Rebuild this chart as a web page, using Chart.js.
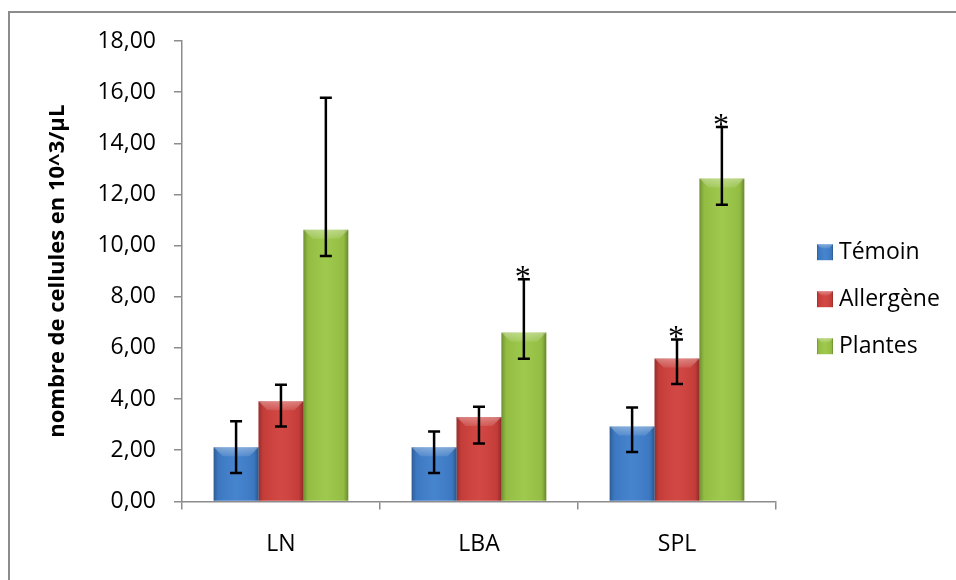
<!DOCTYPE html>
<html>
<head>
<meta charset="utf-8">
<script src="https://cdn.jsdelivr.net/npm/chart.js@4"></script>
<style>
    html, body { margin: 0; padding: 0; background: #fff; }
</style>
</head>
<body>
<canvas id="myChart" width="956" height="580"></canvas>
<script>
// Données
const categories = ['LN', 'LBA', 'SPL'];
const temoin = [2.12, 2.12, 2.93];
const allergene = [3.92, 3.30, 5.59];
const plantes = [10.62, 6.60, 12.62];

// bornes des barres d'erreur
const temoinHaut = [3.13, 2.73, 3.67];
const temoinBas = [1.11, 1.11, 1.93];
const allergeneHaut = [4.56, 3.70, 6.33];
const allergeneBas = [2.93, 2.26, 4.59];
const plantesHaut = [15.78, 8.69, 14.64];
const plantesBas = [9.59, 5.58, 11.60];

// étoiles (différence significative)
const temoinEtoile = [false, false, false];
const allergeneEtoile = [false, false, true];
const plantesEtoile = [false, true, true];

// graduations de l'axe Y
const yTicks = [0, 2, 4, 6, 8, 10, 12, 14, 16, 18];

const police = '"Open Sans", "Liberation Sans", sans-serif';

// Relief façon Excel sur un rectangle
function dessinerRelief(ctx, l, t, r, b, bev) {
    const w = r - l;
    bev = Math.min(bev, (b - t) / 2, w / 2);
    const g = ctx.createLinearGradient(l, 0, r, 0);
    g.addColorStop(0, 'rgba(0,0,0,0.28)');
    g.addColorStop(0.1, 'rgba(0,0,0,0.06)');
    g.addColorStop(0.5, 'rgba(255,255,255,0.04)');
    g.addColorStop(0.9, 'rgba(0,0,0,0.06)');
    g.addColorStop(1, 'rgba(0,0,0,0.32)');
    ctx.fillStyle = g;
    ctx.fillRect(l, t, w, b - t);
    // biseau du haut
    const gh = ctx.createLinearGradient(0, t, 0, t + bev);
    gh.addColorStop(0, 'rgba(255,255,255,0.35)');
    gh.addColorStop(1, 'rgba(255,255,255,0.1)');
    ctx.fillStyle = gh;
    ctx.beginPath();
    ctx.moveTo(l, t);
    ctx.lineTo(r, t);
    ctx.lineTo(r - bev, t + bev);
    ctx.lineTo(l + bev, t + bev);
    ctx.closePath();
    ctx.fill();
}

// cadre gris (haut et gauche)
const cadre = {
    id: 'cadre',
    beforeDraw(chart) {
        const ctx = chart.ctx;
        ctx.save();
        ctx.fillStyle = '#fff';
        ctx.fillRect(0, 0, chart.width, chart.height);
        ctx.strokeStyle = '#8c8c8c';
        ctx.lineWidth = 2;
        ctx.beginPath();
        ctx.moveTo(9, chart.height);
        ctx.lineTo(9, 12);
        ctx.lineTo(chart.width, 12);
        ctx.stroke();
        ctx.restore();
    }
};

// relief, barres d'erreur et étoiles
const hauts = [temoinHaut, allergeneHaut, plantesHaut];
const bas = [temoinBas, allergeneBas, plantesBas];
const etoiles = [temoinEtoile, allergeneEtoile, plantesEtoile];

const erreurs = {
    id: 'erreurs',
    afterDatasetsDraw(chart) {
        const ctx = chart.ctx;
        const y = chart.scales.y;
        ctx.save();
        chart.data.datasets.forEach((ds, i) => {
            chart.getDatasetMeta(i).data.forEach(bar => {
                dessinerRelief(ctx, bar.x - bar.width / 2, bar.y, bar.x + bar.width / 2, bar.base, 9);
            });
        });
        chart.data.datasets.forEach((ds, i) => {
            chart.getDatasetMeta(i).data.forEach((bar, j) => {
                const yh = y.getPixelForValue(hauts[i][j]);
                const yb = y.getPixelForValue(bas[i][j]);
                ctx.strokeStyle = '#000';
                ctx.lineWidth = 2.5;
                ctx.beginPath();
                ctx.moveTo(bar.x, yh);
                ctx.lineTo(bar.x, yb);
                ctx.moveTo(bar.x - 6, yh);
                ctx.lineTo(bar.x + 6, yh);
                ctx.moveTo(bar.x - 6, yb);
                ctx.lineTo(bar.x + 6, yb);
                ctx.stroke();
                if (etoiles[i][j]) {
                    ctx.fillStyle = '#000';
                    ctx.font = '32px "Liberation Serif", serif';
                    ctx.textAlign = 'center';
                    ctx.textBaseline = 'alphabetic';
                    ctx.fillText('*', bar.x - 1, yh + 8);
                }
            });
        });
        ctx.restore();
    },
    // légende à droite
    afterDraw(chart) {
        const ctx = chart.ctx;
        const area = chart.chartArea;
        ctx.save();
        chart.data.datasets.forEach((ds, i) => {
            const cy = (area.top + area.bottom) / 2 + 28 + (i - 1) * 47;
            const bx = area.right + 41;
            ctx.fillStyle = ds.backgroundColor;
            ctx.fillRect(bx, cy - 8, 16, 16);
            dessinerRelief(ctx, bx, cy - 8, bx + 16, cy + 8, 4);
            ctx.fillStyle = '#000';
            ctx.font = '23px ' + police;
            ctx.textAlign = 'left';
            ctx.textBaseline = 'middle';
            ctx.fillText(ds.label, bx + 22, cy);
        });
        ctx.restore();
    }
};

const config = {
    type: 'bar',
    data: {
        labels: categories,
        datasets: [
            { label: 'Témoin', data: temoin, backgroundColor: '#3f7fcc' },
            { label: 'Allergène', data: allergene, backgroundColor: '#d0403c' },
            { label: 'Plantes', data: plantes, backgroundColor: '#9bc746' }
        ]
    },
    options: {
        responsive: false,
        animation: false,
        devicePixelRatio: 1,
        categoryPercentage: 0.68,
        barPercentage: 1.0,
        layout: { padding: { left: 40, top: 41, right: 180, bottom: 1 } },
        plugins: {
            legend: { display: false },
            tooltip: { enabled: false }
        },
        scales: {
            x: {
                grid: { drawOnChartArea: false, drawTicks: true, tickLength: 8, color: '#8c8c8c', lineWidth: 1.5, offset: true },
                border: { color: '#8c8c8c', width: 1.5 },
                ticks: { color: '#000', font: { family: police, size: 23 }, padding: 21 }
            },
            y: {
                min: 0,
                max: 18,
                afterBuildTicks: axis => { axis.ticks = yTicks.map(v => ({ value: v })); },
                grid: { drawOnChartArea: false, drawTicks: true, tickLength: 8, color: '#8c8c8c', lineWidth: 1.5 },
                border: { color: '#8c8c8c', width: 1.5 },
                ticks: {
                    color: '#000',
                    font: { family: police, size: 23 },
                    padding: 18,
                    callback: v => v.toFixed(2).replace('.', ',')
                },
                title: {
                    display: true,
                    text: 'nombre de cellules en 10^3/µL',
                    color: '#000',
                    font: { family: police, size: 22, weight: 'bold' },
                    padding: { top: 5, bottom: 8 }
                }
            }
        }
    },
    plugins: [cadre, erreurs]
};

var myChart = new Chart(document.getElementById('myChart'), config);
</script>
</body>
</html>
